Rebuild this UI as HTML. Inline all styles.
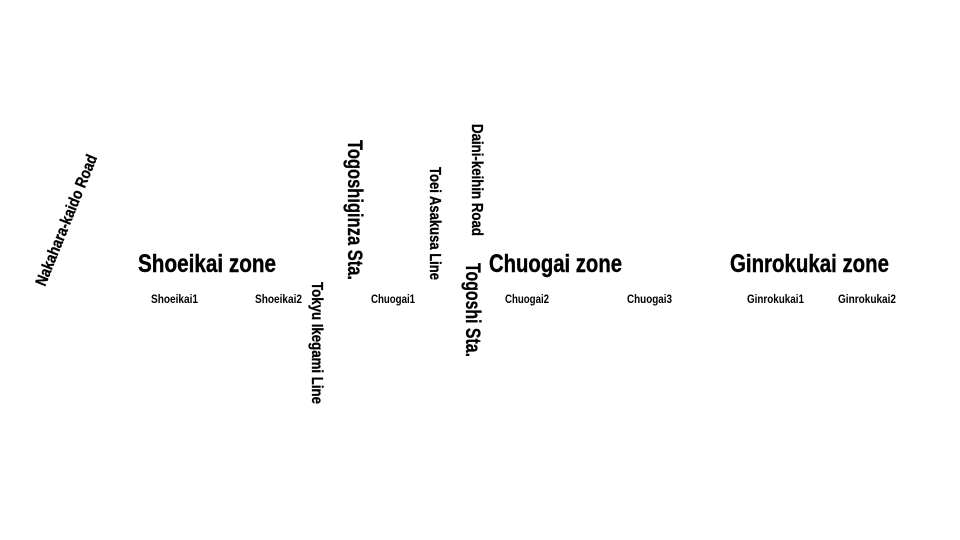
<!DOCTYPE html>
<html><head><style>
html,body{margin:0;padding:0;background:#fff;}
svg{display:block;}
text{font-family:"Liberation Sans",Arial,sans-serif;font-weight:bold;fill:#000;}
</style></head><body>
<svg width="960" height="540" viewBox="0 0 960 540">
<g font-size="25" stroke="#000" stroke-width="0.4">
<text x="138" y="272" textLength="138" lengthAdjust="spacingAndGlyphs">Shoeikai zone</text>
<text x="489" y="272" textLength="133" lengthAdjust="spacingAndGlyphs">Chuogai zone</text>
<text x="730" y="272" textLength="159" lengthAdjust="spacingAndGlyphs">Ginrokukai zone</text>
</g>
<g font-size="12">
<text x="151" y="303" textLength="47" lengthAdjust="spacingAndGlyphs">Shoeikai1</text>
<text x="255" y="303" textLength="47" lengthAdjust="spacingAndGlyphs">Shoeikai2</text>
<text x="371" y="303" textLength="44" lengthAdjust="spacingAndGlyphs">Chuogai1</text>
<text x="505" y="303" textLength="44" lengthAdjust="spacingAndGlyphs">Chuogai2</text>
<text x="627" y="303" textLength="45" lengthAdjust="spacingAndGlyphs">Chuogai3</text>
<text x="747" y="303" textLength="57" lengthAdjust="spacingAndGlyphs">Ginrokukai1</text>
<text x="838" y="303" textLength="58" lengthAdjust="spacingAndGlyphs">Ginrokukai2</text>
</g>
<g stroke="#000" stroke-width="0.3">
<text transform="translate(348,140) rotate(90)" font-size="21" textLength="140" lengthAdjust="spacingAndGlyphs">Togoshiginza Sta.</text>
<text transform="translate(430,167) rotate(90)" font-size="16" textLength="113" lengthAdjust="spacingAndGlyphs">Toei Asakusa Line</text>
<text transform="translate(472,124) rotate(90)" font-size="16" textLength="112" lengthAdjust="spacingAndGlyphs">Daini-keihin Road</text>
<text transform="translate(466,263) rotate(90)" font-size="21" textLength="94" lengthAdjust="spacingAndGlyphs">Togoshi Sta.</text>
<text transform="translate(312,282) rotate(90)" font-size="16" textLength="122" lengthAdjust="spacingAndGlyphs">Tokyu Ikegami Line</text>
<text transform="translate(45,287) rotate(-68)" font-size="16" textLength="140" lengthAdjust="spacingAndGlyphs">Nakahara-kaido Road</text>
</g>
</svg>
</body></html>
